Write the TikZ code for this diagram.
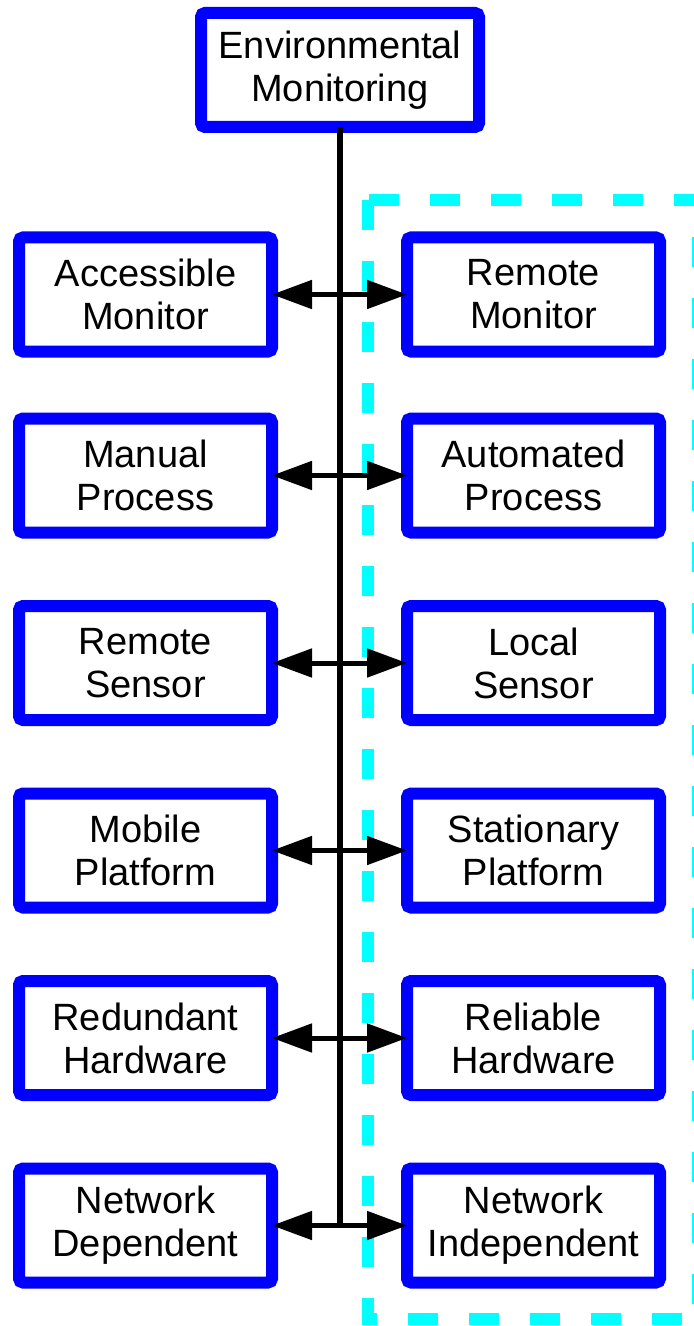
\documentclass[tikz,border=0pt]{standalone}
\usepackage{fontspec}
\setmainfont{Liberation Sans}
\usetikzlibrary{arrows.meta, positioning}

\definecolor{aqua}{RGB}{0,255,255}
\definecolor{boxblue}{RGB}{0,0,255}

\begin{document}
\begin{tikzpicture}[
  x=0.5pt, y=-0.5pt,
  font=\fontsize{19}{21.5}\selectfont,
  node distance=36.75pt and 67.5pt,
  box/.style={
    rectangle,
    draw=boxblue,
    fill=white,
    rounded corners=2pt,
    minimum width=126.5pt,
    minimum height=57pt,
    inner sep=0pt,
    outer sep=0pt,
    align=center,
    line width=6pt
  },
  spine/.style={
    line width=3.2pt
  },
  link/.style={
    {Triangle[length=20pt,width=14pt]}-{Triangle[length=20pt,width=14pt]},
    line width=2.5pt
  },
  zone/.style={
    draw=aqua,
    line width=6pt,
    dash pattern=on 15pt off 15.5pt
  }
]
\useasboundingbox (0,0) rectangle (694,1326);
\clip (0,0) rectangle (694,1326);

% --- Frame around the right-hand column ------------------------------

\draw[zone] (368,200) rectangle (698,1319);

% --- Root ------------------------------------------------------------

\node[box, minimum width=139pt] (env) at (340,70)
{Environmental\\Monitoring};

% --- Left column -----------------------------------------------------

\node[box] (acc) at (145.5,294.5) {Accessible\\Monitor};
\node[box, below=33.5pt of acc] (man) {Manual\\Process};
\node[box, below=of man] (rsen) {Remote\\Sensor};
\node[box, below=of rsen] (mob) {Mobile\\Platform};
\node[box, below=of mob] (red) {Redundant\\Hardware};
\node[box, below=of red] (ndep) {Network\\Dependent};

% --- Right column ----------------------------------------------------

\node[box, right=of acc] (rmon) {Remote\\Monitor};
\node[box, right=of man] (auto) {Automated\\Process};
\node[box, right=of rsen] (lsen) {Local\\Sensor};
\node[box, right=of mob] (stat) {Stationary\\Platform};
\node[box, right=of red] (rel) {Reliable\\Hardware};
\node[box, right=of ndep] (nind) {Network\\Independent};

% --- Spine and pairs -------------------------------------------------

\coordinate (hub) at (env.south |- ndep.east);
\draw[spine] (env.south) -- ([yshift=-1.25pt]hub);

\draw[link] (acc.east) -- (rmon.west);
\draw[link] (man.east) -- (auto.west);
\draw[link] (rsen.east) -- (lsen.west);
\draw[link] (mob.east) -- (stat.west);
\draw[link] (red.east) -- (rel.west);
\draw[link] (ndep.east) -- (nind.west);

\end{tikzpicture}
\end{document}
